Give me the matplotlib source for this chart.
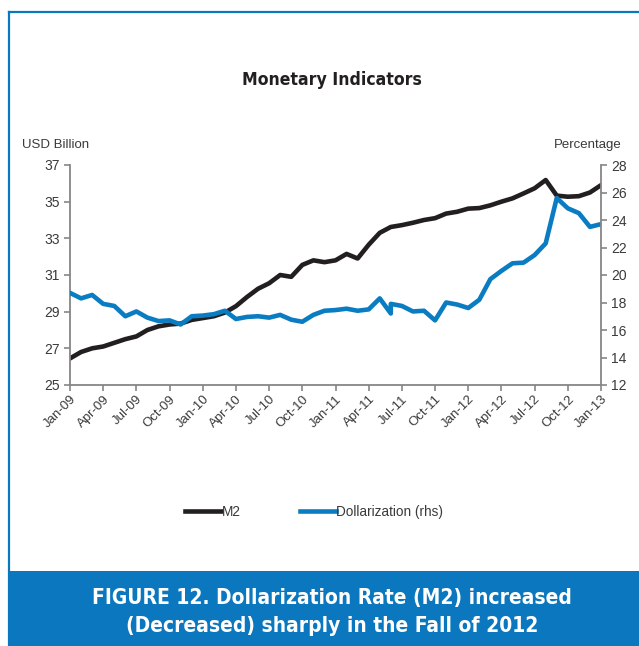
import matplotlib.pyplot as plt
import numpy as np
import pandas as pd
from matplotlib.lines import Line2D
from matplotlib.patches import Rectangle

plt.rcParams['font.family'] = ['Liberation Sans Narrow', 'Liberation Sans', 'DejaVu Sans']

# monthly data, Jan-09 .. Jan-13
months = pd.date_range('2009-01-01', '2013-01-01', freq='MS')
tick_labels = [d.strftime('%b-%y') for d in months[::3]]

# M2, USD billion (left axis)
m2 = [26.45, 26.8, 27.0, 27.1, 27.3, 27.5, 27.65, 28.0, 28.2, 28.3, 28.35, 28.55,
      28.65, 28.75, 28.95, 29.3, 29.8, 30.25, 30.55, 31.0, 30.9, 31.55, 31.8, 31.7,
      31.8, 32.15, 31.9, 32.65, 33.3, 33.62, 33.72, 33.85, 34.0, 34.1, 34.35, 34.45,
      34.62, 34.65, 34.8, 35.0, 35.18, 35.45, 35.73, 36.18, 35.33, 35.27, 35.3, 35.5,
      35.9]

# dollarization rate, % (right axis) - Jun-11 appears twice in the source series
dollar_pos = list(range(30)) + list(range(29, 49))
dollar = [18.7, 18.3, 18.55, 17.9, 17.75, 17.0, 17.35, 16.9, 16.65, 16.7, 16.4, 17.0,
          17.05, 17.15, 17.4, 16.8, 16.95, 17.0, 16.9, 17.1, 16.75, 16.6, 17.1, 17.4,
          17.45, 17.55, 17.4, 17.5, 18.3, 17.2,
          17.9, 17.75, 17.35, 17.4, 16.7, 18.0, 17.85, 17.6, 18.2, 19.7, 20.3, 20.85,
          20.9, 21.45, 22.3, 25.6, 24.85, 24.5, 23.5, 23.7]

black = '#231f20'
blue = '#0a7dc2'
frame_blue = '#0b77be'
grey = '#868686'
txt = '#3a3a3a'

fig = plt.figure(figsize=(6.39, 6.46), dpi=100)
ax = fig.add_axes([70/639, 1-385/646, 531/639, 220/646])
ax2 = ax.twinx()

x = np.arange(len(months))
ax.plot(x, m2, color=black, lw=3.3, solid_joinstyle='round', solid_capstyle='round')
ax2.plot(dollar_pos, dollar, color=blue, lw=3.3, solid_joinstyle='round', solid_capstyle='round')

ax.set_xlim(0, 48)
ax.set_ylim(25, 37)
ax.set_yticks(np.arange(25, 38, 2))
ax2.set_ylim(12, 28)
ax2.set_yticks(np.arange(12, 29, 2))
ax.set_xticks(x[::3])
ax.set_xticklabels(tick_labels, rotation=45, ha='right', rotation_mode='anchor')

for a in (ax, ax2):
    a.spines['top'].set_visible(False)
    for s in ('left', 'right', 'bottom'):
        a.spines[s].set_color(grey)
        a.spines[s].set_linewidth(1.3)
    a.tick_params(colors=grey, labelcolor=txt, labelsize=10, length=4, width=1.2)
ax.spines['right'].set_visible(False)
ax2.spines['left'].set_visible(False)
ax2.spines['bottom'].set_visible(False)
ax.tick_params(axis='x', labelsize=9.5, pad=2)

cond = dict(family='DejaVu Sans', stretch='condensed')
fig.text(332/639, 1-80/646, 'Monetary Indicators', ha='center', va='center',
         fontsize=12.6, fontweight='bold', color=black, **cond)
fig.text(22/639, 1-145/646, 'USD Billion', ha='left', va='center', fontsize=9.5, color=txt)
fig.text(622/639, 1-145/646, 'Percentage', ha='right', va='center', fontsize=9.5, color=txt)

handles = [Line2D([], [], color=black, lw=3.3), Line2D([], [], color=blue, lw=3.3)]
fig.legend(handles, ['M2', 'Dollarization (rhs)'], loc='center', bbox_to_anchor=(0.492, 1-512/646),
           ncol=2, frameon=False, handlelength=2.6, handletextpad=0.05, columnspacing=4.4,
           fontsize=9.8, labelcolor=txt)

# page frame and caption band
fig.add_artist(Line2D([9/639, 9/639], [0, 1-12/646], transform=fig.transFigure, color=frame_blue, lw=1.6))
fig.add_artist(Line2D([9/639, 1], [1-12/646, 1-12/646], transform=fig.transFigure, color=frame_blue, lw=1.6))
fig.add_artist(Rectangle((8/639, 0), 1, 1-571/646, transform=fig.transFigure, color=frame_blue, lw=0))
fig.text(332/639, 1-612/646, 'FIGURE 12. Dollarization Rate (M2) increased\n(Decreased) sharply in the Fall of 2012',
         ha='center', va='center', color='white', fontsize=15, fontweight='bold', linespacing=1.45, **cond)

fig.savefig('out.png', dpi=100)
